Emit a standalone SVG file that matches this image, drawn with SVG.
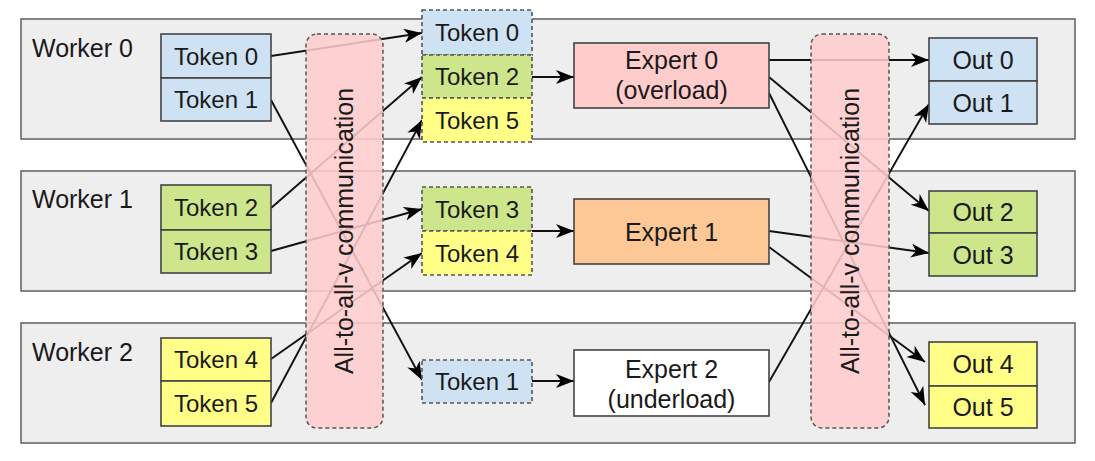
<svg xmlns="http://www.w3.org/2000/svg" width="1095" height="461" viewBox="0 0 1095 461">
<style>
text{font-family:"Liberation Sans",Arial,sans-serif;fill:#1a1a1a;}
.worker{fill:#eeeeee;stroke:#5f5f5f;stroke-width:1.5;}
.box{stroke:#444;stroke-width:1.6;}
.dash{stroke:#555;stroke-width:1.6;stroke-dasharray:4,3;}
.blue{fill:#cfe2f3;}
.green{fill:#cde68c;}
.yellow{fill:#ffff88;}
.pink{fill:#ffcccc;}
.orange{fill:#fdc896;}
.white{fill:#ffffff;}
.t24{font-size:24px;text-anchor:middle;}
.t25{font-size:25px;text-anchor:middle;}
.lbl{font-size:25px;}
.conn line{stroke:#111;stroke-width:1.9;fill:none;}
.arr{marker-end:url(#ah);}
.comm{fill:#ffcccc;fill-opacity:0.87;stroke:#555;stroke-width:1.5;stroke-dasharray:4,3;}
</style>
<defs>
<marker id="ah" markerUnits="userSpaceOnUse" markerWidth="20" markerHeight="16" refX="18" refY="7" orient="auto">
<path d="M0,0 L18,7 L0,14 L5,7 z" fill="#000"/>
</marker>
</defs>

<g id="worker0"><rect class="worker" x="21" y="19" width="1054" height="120"/><text class="lbl" x="32" y="57">Worker 0</text></g>
<g id="worker1"><rect class="worker" x="21" y="171" width="1054" height="120"/><text class="lbl" x="32" y="208">Worker 1</text></g>
<g id="worker2"><rect class="worker" x="21" y="323" width="1054" height="120"/><text class="lbl" x="32" y="361">Worker 2</text></g>

<g id="connectors" class="conn">
<line class="arr" x1="271" y1="56" x2="422" y2="33"/>
<line class="arr" x1="271" y1="100" x2="422" y2="380"/>
<line class="arr" x1="271" y1="208" x2="422" y2="77"/>
<line class="arr" x1="271" y1="251" x2="422" y2="209"/>
<line class="arr" x1="271" y1="359" x2="422" y2="253"/>
<line class="arr" x1="271" y1="403" x2="422" y2="120"/>
<line class="arr" x1="532" y1="77" x2="574" y2="77"/>
<line class="arr" x1="532" y1="231" x2="574" y2="231"/>
<line class="arr" x1="532" y1="381" x2="574" y2="381"/>
<line class="arr" x1="769" y1="60" x2="929" y2="60"/>
<line class="arr" x1="769" y1="77" x2="929" y2="211"/>
<line class="arr" x1="769" y1="93" x2="925" y2="405"/>
<line class="arr" x1="769" y1="231" x2="929" y2="253"/>
<line class="arr" x1="769" y1="247" x2="925" y2="362"/>
<line class="arr" x1="769" y1="382" x2="929" y2="104"/>
</g>

<g id="src-token0"><rect class="box blue" x="161" y="34" width="110" height="44"/><text class="t24" x="216" y="64.5">Token 0</text></g>
<g id="src-token1"><rect class="box blue" x="161" y="78" width="110" height="43"/><text class="t24" x="216" y="108">Token 1</text></g>
<g id="src-token2"><rect class="box green" x="161" y="185" width="110" height="45"/><text class="t24" x="216" y="216">Token 2</text></g>
<g id="src-token3"><rect class="box green" x="161" y="230" width="110" height="43"/><text class="t24" x="216" y="260">Token 3</text></g>
<g id="src-token4"><rect class="box yellow" x="161" y="338" width="110" height="43"/><text class="t24" x="216" y="368">Token 4</text></g>
<g id="src-token5"><rect class="box yellow" x="161" y="381" width="110" height="45"/><text class="t24" x="216" y="412">Token 5</text></g>

<g id="dst-token0"><rect class="dash blue" x="422" y="10" width="110" height="45"/><text class="t24" x="477" y="41">Token 0</text></g>
<g id="dst-token2"><rect class="dash green" x="422" y="55" width="110" height="43"/><text class="t24" x="477" y="85">Token 2</text></g>
<g id="dst-token5"><rect class="dash yellow" x="422" y="98" width="110" height="44"/><text class="t24" x="477" y="128.5">Token 5</text></g>
<g id="dst-token3"><rect class="dash green" x="422" y="187" width="110" height="44"/><text class="t24" x="477" y="217.5">Token 3</text></g>
<g id="dst-token4"><rect class="dash yellow" x="422" y="231" width="110" height="44"/><text class="t24" x="477" y="261.5">Token 4</text></g>
<g id="dst-token1"><rect class="dash blue" x="422" y="360" width="110" height="43"/><text class="t24" x="477" y="390">Token 1</text></g>

<g id="expert0"><rect class="box pink" x="574" y="43" width="195" height="65"/><text class="t25" x="671.5" y="69">Expert 0</text><text class="t25" x="671.5" y="99">(overload)</text></g>
<g id="expert1"><rect class="box orange" x="574" y="199" width="195" height="65"/><text class="t25" x="671.5" y="241">Expert 1</text></g>
<g id="expert2"><rect class="box white" x="574" y="350" width="195" height="66"/><text class="t25" x="671.5" y="378">Expert 2</text><text class="t25" x="671.5" y="408">(underload)</text></g>

<g id="out0"><rect class="box blue" x="929" y="38" width="108" height="43"/><text class="t25" x="983" y="68.5">Out 0</text></g>
<g id="out1"><rect class="box blue" x="929" y="81" width="108" height="43"/><text class="t25" x="983" y="111.5">Out 1</text></g>
<g id="out2"><rect class="box green" x="929" y="191" width="108" height="42"/><text class="t25" x="983" y="221">Out 2</text></g>
<g id="out3"><rect class="box green" x="929" y="233" width="108" height="43"/><text class="t25" x="983" y="263.5">Out 3</text></g>
<g id="out4"><rect class="box yellow" x="929" y="342" width="108" height="44"/><text class="t25" x="983" y="373">Out 4</text></g>
<g id="out5"><rect class="box yellow" x="929" y="386" width="108" height="42"/><text class="t25" x="983" y="416">Out 5</text></g>

<g id="comm1"><rect class="comm" x="306" y="34" width="77" height="394" rx="11"/><text class="t25" transform="translate(353,231) rotate(-90)">All-to-all-v communication</text></g>
<g id="comm2"><rect class="comm" x="811" y="34" width="78" height="394" rx="11"/><text class="t25" transform="translate(859,231) rotate(-90)">All-to-all-v communication</text></g>
</svg>
